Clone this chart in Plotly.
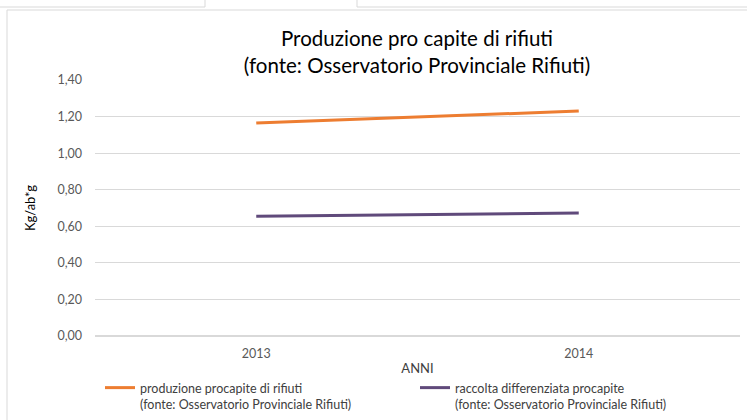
import plotly.graph_objects as go

# Data
anni = ['2013', '2014']
produzione = [1.165, 1.23]
raccolta = [0.655, 0.672]
nomi = ['produzione procapite di rifiuti<br>(fonte: Osservatorio Provinciale Rifiuti)',
        'raccolta differenziata procapite<br>(fonte: Osservatorio Provinciale Rifiuti)']

W, H = 747, 420
L, R, T, B = 95, 7, 80, 84
pw, ph = W - L - R, H - T - B


def px_x(x):
    return (x - L) / pw


def px_y(y):
    return (H - B - y) / ph


fig = go.Figure()
fig.add_trace(go.Scatter(x=anni, y=produzione, mode='lines', name=nomi[0],
                         line=dict(color='#ED7D31', width=3)))
fig.add_trace(go.Scatter(x=anni, y=raccolta, mode='lines', name=nomi[1],
                         line=dict(color='#604A7B', width=3)))

# Frame of the chart and window artifacts at the top
border = '#d9d9d9'
shapes = [
    dict(type='line', x0=px_x(7), x1=px_x(7), y0=px_y(10), y1=px_y(420)),
    dict(type='line', x0=px_x(7), x1=px_x(747), y0=px_y(10), y1=px_y(10)),
    dict(type='line', x0=px_x(0), x1=px_x(205), y0=px_y(7), y1=px_y(7)),
    dict(type='line', x0=px_x(205), x1=px_x(205), y0=px_y(0), y1=px_y(7)),
    dict(type='line', x0=px_x(357), x1=px_x(357), y0=px_y(0), y1=px_y(7)),
    dict(type='line', x0=px_x(357), x1=px_x(747), y0=px_y(7), y1=px_y(7)),
]
for s in shapes:
    s.update(xref='paper', yref='paper', line=dict(color=border, width=1), layer='above')

fig.update_layout(
    width=W, height=H,
    margin=dict(l=L, r=R, t=T, b=B, autoexpand=False),
    paper_bgcolor='white',
    plot_bgcolor='white',
    font=dict(family='Lato, sans-serif', color='#595959', size=12),
    separators=',.',
    title=dict(text='Produzione pro capite di rifiuti<br>(fonte: Osservatorio Provinciale Rifiuti)',
               x=417 / W, xanchor='center', y=1 - 46 / H, yanchor='middle',
               font=dict(size=20.5, color='#000000')),
    xaxis=dict(type='category', range=[-0.5, 1.5], showgrid=False, showline=False,
               ticks='', ticklabelstandoff=8, tickfont=dict(size=12.5, color='#595959'),
               title=dict(text='ANNI', font=dict(size=13, color='#404040'), standoff=4)),
    yaxis=dict(range=[0, 1.4], dtick=0.2, tickformat='.2f', showgrid=True,
               gridcolor='#d9d9d9', gridwidth=1, zeroline=True, zerolinecolor='#d9d9d9',
               showline=False, ticks='', ticklabelstandoff=12,
               tickfont=dict(size=12.5, color='#595959'),
               title=dict(text='Kg/ab*g', font=dict(size=13, color='#000000'), standoff=18)),
    showlegend=True,
    legend=dict(orientation='h', x=px_x(100), xanchor='left', y=px_y(373), yanchor='top',
                entrywidth=270, entrywidthmode='pixels', valign='top',
                font=dict(size=12.5, color='#404040'), itemwidth=30,
                bgcolor='rgba(0,0,0,0)', tracegroupgap=0),
    shapes=shapes,
)

fig.write_html('out.html', config={'displayModeBar': False},
               post_script="document.body.style.margin='0';")
